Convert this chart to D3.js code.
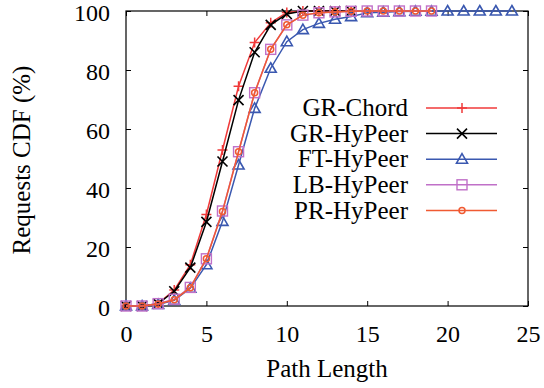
<!DOCTYPE html>
<html>
<head>
<meta charset="utf-8">
<script src="https://cdn.jsdelivr.net/npm/d3@7"></script>
<style>
  body { margin: 0; background: #fff; }
  svg text { font-family: "Liberation Serif", "Times New Roman", serif; fill: #000; }
</style>
</head>
<body>
<div id="chart"></div>
<script>
// values (path length -> CDF %)
const grChord  = [0, 0, 0.8, 5.4, 14, 31, 52.9, 74.5, 89.3, 96, 99.5, 100, 100, 100, 100];
const grHyPeer = [0, 0, 0.8, 5, 13, 28.5, 49, 69.8, 86, 95.3, 99, 100, 100, 100, 100];
const ftHyPeer = [0, 0, 0.5, 1.9, 6, 14, 28.7, 47.8, 67, 80.6, 89.6, 93.7, 95.8, 97.2, 98.1, 99.4, 99.6, 99.8, 99.9, 99.9, 100, 100, 100, 100, 100];
const lbHyPeer = [0, 0, 0.8, 2.3, 6.3, 16, 32.2, 52.3, 72.3, 87, 95.3, 98.6, 99.4, 99.7, 99.9, 100, 100, 100, 100, 100];
const prHyPeer = [0, 0, 0.7, 2.1, 6.2, 16, 32, 52.3, 72.3, 87, 95.3, 98.6, 99.4, 99.7, 99.9, 100, 100, 100, 100, 100];

const seriesNames = ["GR-Chord", "GR-HyPeer", "FT-HyPeer", "LB-HyPeer", "PR-HyPeer"];
const xTicks = [0, 5, 10, 15, 20, 25];
const yTicks = [0, 20, 40, 60, 80, 100];

const series = [
  {name: seriesNames[0], values: grChord,  color: "#f03a3a", marker: "plus"},
  {name: seriesNames[1], values: grHyPeer, color: "#000000", marker: "cross"},
  {name: seriesNames[2], values: ftHyPeer, color: "#3a58b0", marker: "triangle"},
  {name: seriesNames[3], values: lbHyPeer, color: "#c070c8", marker: "square"},
  {name: seriesNames[4], values: prHyPeer, color: "#f05a32", marker: "circle"}
];

const width = 544, height = 388;
const margin = {top: 11, right: 16, bottom: 82, left: 126};
const iw = width - margin.left - margin.right;
const ih = height - margin.top - margin.bottom;

const svg = d3.select("#chart").append("svg")
  .attr("width", width)
  .attr("height", height);

const g = svg.append("g")
  .attr("transform", "translate(" + margin.left + "," + margin.top + ")");

const x = d3.scaleLinear().domain([0, 25]).range([0, iw]);
const y = d3.scaleLinear().domain([0, 100]).range([ih, 0]);

// axes: gnuplot style, ticks inside and mirrored
const tickLen = 5;
const xAxis = g.append("g").attr("transform", "translate(0," + ih + ")")
  .call(d3.axisBottom(x).tickValues(xTicks).tickSizeInner(-tickLen).tickSizeOuter(0).tickPadding(19));
const yAxis = g.append("g")
  .call(d3.axisLeft(y).tickValues(yTicks).tickSizeInner(-tickLen).tickSizeOuter(0).tickPadding(16));
g.append("g").call(d3.axisTop(x).tickValues(xTicks).tickSizeInner(-tickLen).tickSizeOuter(0).tickFormat(""));
g.append("g").attr("transform", "translate(" + iw + ",0)")
  .call(d3.axisRight(y).tickValues(yTicks).tickSizeInner(-tickLen).tickSizeOuter(0).tickFormat(""));

g.selectAll(".domain").remove();
g.selectAll(".tick line").attr("stroke", "#000");
xAxis.selectAll("text").style("font-size", "24px").attr("dy", "0.71em");
yAxis.selectAll("text").style("font-size", "24px").attr("dy", "0.4em");

g.append("rect")
  .attr("width", iw).attr("height", ih)
  .attr("fill", "none").attr("stroke", "#000").attr("stroke-width", 1.2);

// markers
function drawMarker(sel, type, color) {
  if (type === "plus") {
    sel.append("path").attr("d", "M-5,0H5M0,-5V5").attr("stroke", color).attr("stroke-width", 1.5).attr("fill", "none");
  } else if (type === "cross") {
    sel.append("path").attr("d", "M-5,-5L5,5M-5,5L5,-5").attr("stroke", color).attr("stroke-width", 1.6).attr("fill", "none");
  } else if (type === "triangle") {
    sel.append("path").attr("d", "M0,-5.5L5.5,4L-5.5,4Z").attr("stroke", color).attr("stroke-width", 1.6).attr("fill", "none");
  } else if (type === "square") {
    sel.append("rect").attr("x", -5).attr("y", -5).attr("width", 10).attr("height", 10)
      .attr("stroke", color).attr("stroke-width", 1.4).attr("fill", "none");
  } else if (type === "circle") {
    sel.append("circle").attr("r", 3).attr("stroke", color).attr("stroke-width", 1.5).attr("fill", "none");
  }
}

const line = d3.line().x((d, i) => x(i)).y(d => y(d));

series.forEach(s => {
  g.append("path")
    .datum(s.values)
    .attr("d", line)
    .attr("fill", "none")
    .attr("stroke", s.color)
    .attr("stroke-width", 1.5);
  g.selectAll(null)
    .data(s.values)
    .enter().append("g")
    .attr("transform", (d, i) => "translate(" + x(i) + "," + y(d) + ")")
    .each(function() { drawMarker(d3.select(this), s.marker, s.color); });
});

// legend
const legend = svg.append("g").attr("transform", "translate(408,108)");
series.forEach((s, i) => {
  const row = legend.append("g").attr("transform", "translate(0," + i * 25.6 + ")");
  row.append("text")
    .attr("x", 0).attr("dy", "0.33em")
    .attr("text-anchor", "end")
    .style("font-size", "25px")
    .text(s.name);
  row.append("line")
    .attr("x1", 18).attr("x2", 89)
    .attr("stroke", s.color).attr("stroke-width", 1.5);
  drawMarker(row.append("g").attr("transform", "translate(54,0)"), s.marker, s.color);
});

// axis titles
svg.append("text")
  .attr("x", 327)
  .attr("y", 377)
  .attr("text-anchor", "middle")
  .style("font-size", "25px")
  .text("Path Length");

svg.append("text")
  .attr("transform", "translate(30,160) rotate(-90)")
  .attr("text-anchor", "middle")
  .style("font-size", "25px")
  .text("Requests CDF (%)");
</script>
</body>
</html>
